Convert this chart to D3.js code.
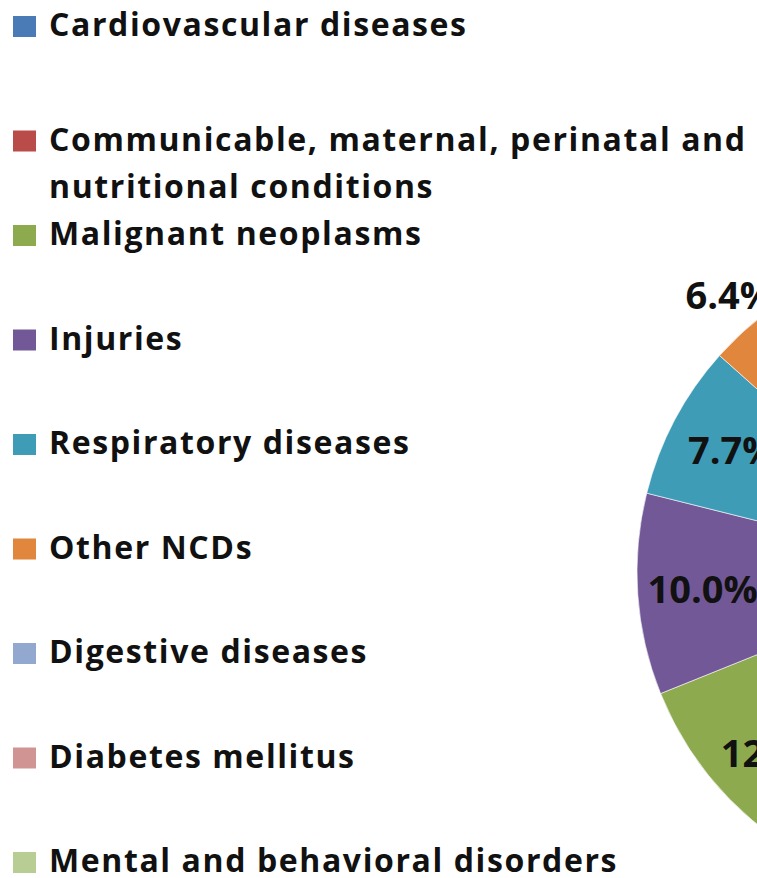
<!DOCTYPE html>
<html>
<head>
<meta charset="utf-8">
<script src="https://cdn.jsdelivr.net/npm/d3@7"></script>
<style>
  body { margin: 0; background: #fff; overflow: hidden; }
  text { font-family: "Open Sans", "DejaVu Sans", sans-serif; font-weight: 700; fill: #111; }
</style>
</head>
<body>
<svg id="chart" width="757" height="878"></svg>
<script>
// categories, in legend / pie order (clockwise from 12 o'clock)
var categories = [
  "Cardiovascular diseases",
  "Communicable, maternal, perinatal and|nutritional conditions",
  "Malignant neoplasms",
  "Injuries",
  "Respiratory diseases",
  "Other NCDs",
  "Digestive diseases",
  "Diabetes mellitus",
  "Mental and behavioral disorders"
]

// share of deaths (%), first two and last three are off the visible crop -> estimated
var shares = [36.0, 20.5, 12.4, 10.0, 7.7, 6.4, 3.2, 2.3, 1.5]

var shareLabels = ["36.0%", "20.5%", "12.4%", "10.0%", "7.7%", "6.4%", "3.2%", "2.3%", "1.5%"]

var colours = ["#4a7bb7", "#b94b49", "#8eaa4f", "#735897", "#3f9cb6", "#e0863d", "#92a8cf", "#d09593", "#b7cd93"]

var svg = d3.select("#chart")

var pieCx = 962, pieCy = 572, pieR = 325

var colour = d3.scaleOrdinal().domain(categories).range(colours)

var pie = d3.pie().sort(null).value(function(d){return d.value})

var slices = pie(categories.map(function(c, i){
  return {name: c, value: shares[i], label: shareLabels[i]}
}))

var arc = d3.arc().innerRadius(0).outerRadius(pieR)
var labelArc = d3.arc().innerRadius(260).outerRadius(260)
var outerLabelArc = d3.arc().innerRadius(345).outerRadius(345)

/*
  Pie
*/

var g = svg.append("g").attr("transform", "translate(" + pieCx + "," + pieCy + ")")

g.selectAll("path")
  .data(slices)
  .enter()
  .append("path")
  .attr("d", arc)
  .attr("fill", function(d){return colour(d.data.name)})
  .attr("stroke", "#fff")
  .attr("stroke-width", 0.6)

g.selectAll("text")
  .data(slices)
  .enter()
  .append("text")
  .attr("transform", function(d){
    // small slices get their label outside the pie
    var p = (d.data.value < 7) ? outerLabelArc.centroid(d) : labelArc.centroid(d)
    if (d.data.value < 7) p[0] -= 26
    return "translate(" + p + ")"
  })
  .attr("text-anchor", "middle")
  .attr("dy", "0.35em")
  .style("font-size", "38px")
  .text(function(d){return d.data.label})

/*
  Legend
*/

var legendY = d3.scalePoint().domain(categories).range([26, 862])

var legend = svg.append("g")
  .selectAll("g")
  .data(categories)
  .enter()
  .append("g")
  .attr("transform", function(d){
    var wrapped = d.indexOf("|") >= 0
    return "translate(13," + (legendY(d) + (wrapped ? 10 : 0)) + ")"
  })

legend.append("rect")
  .attr("x", 0)
  .attr("y", -10)
  .attr("width", 23)
  .attr("height", 21)
  .attr("fill", function(d){return colour(d)})

legend.append("text")
  .attr("x", 36)
  .attr("y", 10)
  .style("font-size", "32px")
  .style("letter-spacing", "1.6px")
  .selectAll("tspan")
  .data(function(d){return d.split("|")})
  .enter()
  .append("tspan")
  .attr("x", 36)
  .attr("dy", function(d, i){return i ? 47 : 0})
  .text(function(d){return d})
</script>
</body>
</html>
